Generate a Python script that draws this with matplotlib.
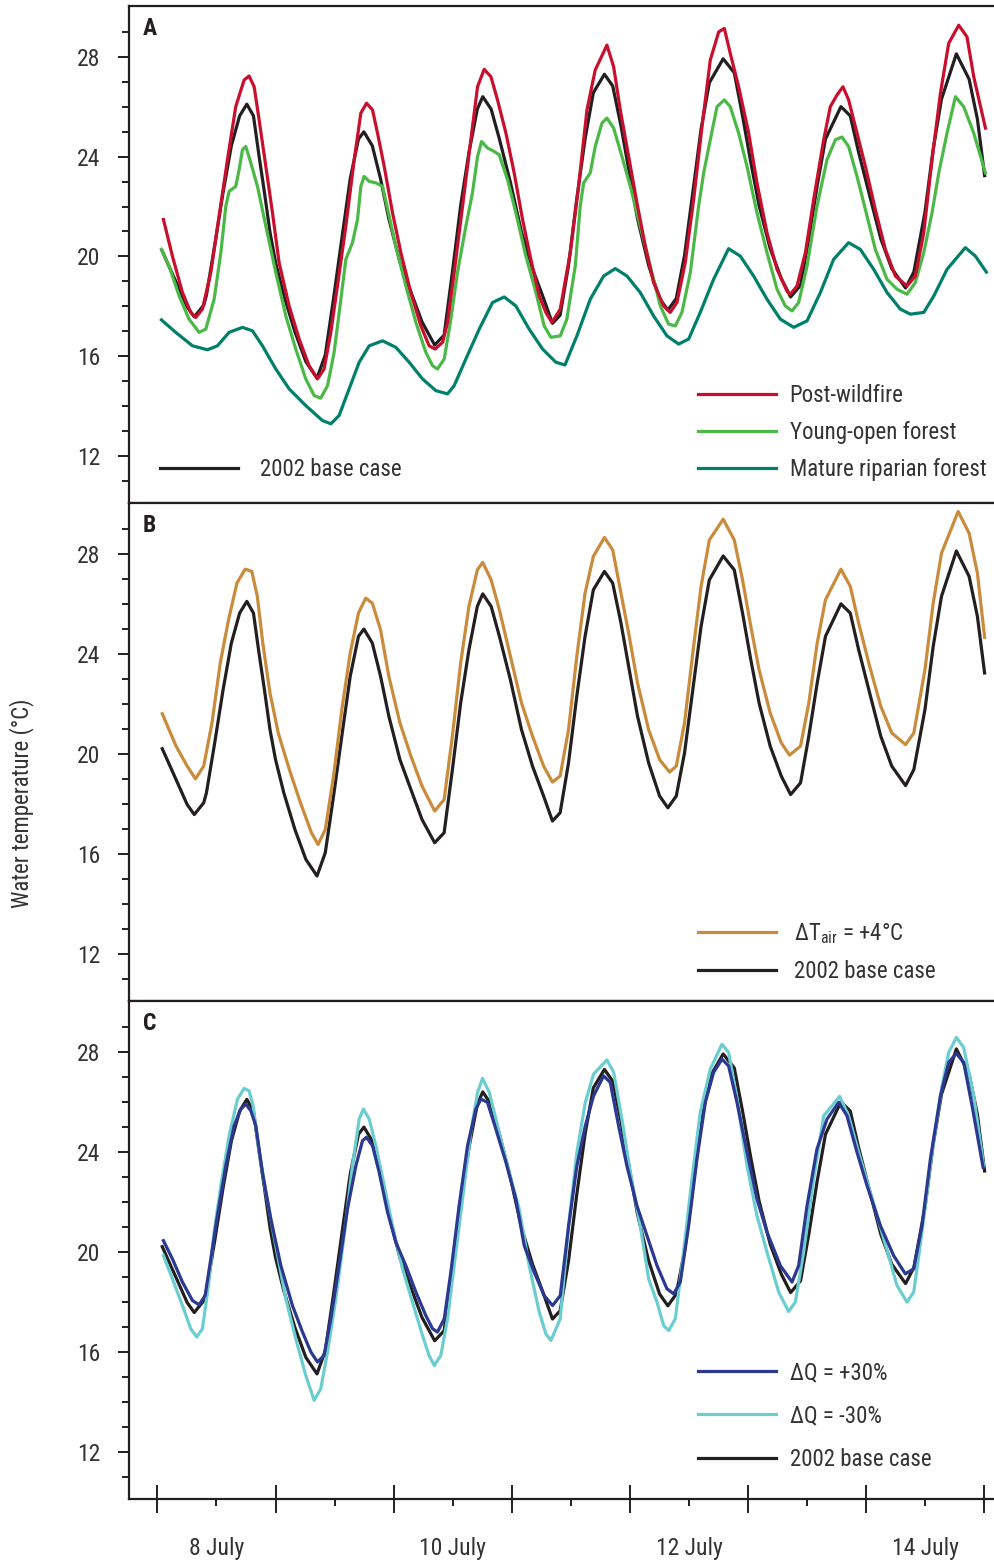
import matplotlib
matplotlib.use("Agg")
import matplotlib.pyplot as plt
from matplotlib import font_manager
from matplotlib.ticker import FixedLocator, FixedFormatter, NullFormatter

# a narrow face is closest to the original; fall back to Liberation Sans
installed = {f.name for f in font_manager.fontManager.ttflist}
narrow = [n for n in ['Liberation Sans Narrow', 'Roboto Condensed'] if n in installed]
if narrow:
    plt.rcParams['font.family'] = [narrow[0], 'DejaVu Sans']
    fs, fs_tick = 16.5, 17
else:
    plt.rcParams['font.family'] = ['Liberation Sans', 'DejaVu Sans']
    fs, fs_tick = 15.3, 16
plt.rcParams['text.color'] = '#333333'
plt.rcParams['xtick.color'] = '#231f20'
plt.rcParams['ytick.color'] = '#231f20'
plt.rcParams['xtick.labelcolor'] = '#333333'
plt.rcParams['ytick.labelcolor'] = '#333333'

# time in days since 8 July 00:00
# 2002 base case (same in all panels)
base_t = [0.041, 0.158, 0.252, 0.312, 0.392, 0.415, 0.485, 0.556, 0.626, 0.696, 0.757, 0.813, 0.860,
          0.906, 0.953, 1.000, 1.070, 1.164, 1.257, 1.351, 1.421, 1.491, 1.561, 1.632, 1.702, 1.748,
          1.819, 1.889, 1.959, 2.053, 2.146, 2.240, 2.347, 2.427, 2.497, 2.567, 2.637, 2.708, 2.754,
          2.825, 2.895, 2.988, 3.082, 3.175, 3.269, 3.344, 3.409, 3.480, 3.550, 3.620, 3.690, 3.784,
          3.854, 3.924, 3.994, 4.064, 4.158, 4.251, 4.321, 4.392, 4.462, 4.532, 4.602, 4.672, 4.789,
          4.883, 4.953, 5.023, 5.093, 5.187, 5.281, 5.360, 5.444, 5.514, 5.585, 5.655, 5.786, 5.865,
          5.936, 6.029, 6.123, 6.216, 6.333, 6.403, 6.497, 6.567, 6.637, 6.763, 6.871, 6.941, 7.002]
base_v = [20.21, 18.97, 17.97, 17.57, 18.04, 18.44, 20.44, 22.57, 24.44, 25.64, 26.11, 25.64, 24.04,
          22.57, 20.97, 19.77, 18.44, 16.97, 15.77, 15.11, 16.04, 18.31, 20.71, 23.11, 24.71, 25.00,
          24.44, 23.11, 21.51, 19.77, 18.57, 17.37, 16.44, 16.84, 19.37, 22.04, 24.17, 25.91, 26.41,
          25.91, 24.71, 22.97, 20.97, 19.51, 18.31, 17.31, 17.64, 19.64, 22.31, 24.71, 26.57, 27.31,
          26.84, 25.24, 23.37, 21.51, 19.64, 18.31, 17.84, 18.31, 20.04, 22.57, 25.11, 26.97, 27.93,
          27.37, 25.64, 23.77, 22.04, 20.31, 19.11, 18.37, 18.84, 20.71, 22.84, 24.71, 26.01, 25.64,
          24.17, 22.44, 20.71, 19.51, 18.73, 19.37, 21.77, 24.31, 26.31, 28.13, 27.11, 25.51, 23.24]

# panel A: riparian scenarios
fire_t = [0.051, 0.127, 0.212, 0.282, 0.325, 0.381, 0.452, 0.522, 0.593, 0.663, 0.734, 0.776, 0.819,
          0.861, 0.918, 0.974, 1.030, 1.115, 1.200, 1.284, 1.355, 1.411, 1.468, 1.524, 1.595, 1.666,
          1.722, 1.770, 1.821, 1.863, 1.920, 1.990, 2.061, 2.145, 2.230, 2.300, 2.351, 2.414, 2.456,
          2.512, 2.583, 2.653, 2.710, 2.766, 2.823, 2.879, 2.950, 3.020, 3.091, 3.161, 3.232, 3.288,
          3.339, 3.410, 3.495, 3.565, 3.636, 3.706, 3.805, 3.862, 3.918, 3.989, 4.059, 4.130, 4.200,
          4.285, 4.341, 4.398, 4.468, 4.539, 4.610, 4.680, 4.751, 4.799, 4.849, 4.920, 5.005, 5.075,
          5.160, 5.245, 5.329, 5.358, 5.414, 5.485, 5.555, 5.640, 5.696, 5.753, 5.803, 5.851, 5.922,
          5.993, 6.077, 6.162, 6.247, 6.345, 6.416, 6.487, 6.557, 6.628, 6.698, 6.783, 6.853, 6.910,
          7.009]
fire_v = [21.48, 20.01, 18.55, 17.75, 17.55, 17.88, 19.35, 21.61, 23.88, 26.01, 27.08, 27.24, 26.81,
          25.48, 23.61, 21.75, 19.75, 18.01, 16.68, 15.61, 15.08, 15.48, 16.95, 18.81, 21.21, 23.88,
          25.75, 26.15, 25.88, 24.95, 23.61, 21.75, 20.15, 18.55, 17.21, 16.41, 16.28, 16.55, 17.35,
          19.35, 22.01, 24.68, 26.81, 27.51, 27.21, 26.28, 24.95, 23.35, 21.48, 19.88, 18.41, 17.75,
          17.35, 17.88, 20.15, 22.81, 25.88, 27.48, 28.48, 27.61, 25.88, 24.01, 22.15, 20.41, 18.95,
          18.01, 17.75, 18.15, 19.75, 22.28, 25.21, 27.88, 29.01, 29.15, 28.15, 26.81, 24.95, 22.95,
          20.95, 19.48, 18.61, 18.48, 18.81, 20.15, 22.28, 24.68, 26.01, 26.48, 26.81, 26.28, 24.95,
          23.61, 21.88, 20.28, 19.21, 18.81, 19.21, 20.95, 23.88, 26.55, 28.55, 29.28, 28.81, 27.21,
          25.15]

young_t = [0.034, 0.099, 0.184, 0.268, 0.353, 0.410, 0.480, 0.537, 0.579, 0.607, 0.663, 0.692, 0.720,
           0.748, 0.791, 0.847, 0.918, 1.002, 1.087, 1.171, 1.256, 1.327, 1.383, 1.440, 1.496, 1.553,
           1.595, 1.651, 1.694, 1.722, 1.750, 1.793, 1.849, 1.906, 1.962, 2.018, 2.103, 2.188, 2.272,
           2.329, 2.371, 2.428, 2.484, 2.540, 2.611, 2.667, 2.710, 2.744, 2.794, 2.851, 2.893, 2.964,
           3.034, 3.119, 3.204, 3.274, 3.331, 3.410, 3.466, 3.537, 3.579, 3.608, 3.664, 3.706, 3.763,
           3.805, 3.862, 3.932, 4.003, 4.087, 4.172, 4.257, 4.327, 4.384, 4.440, 4.511, 4.581, 4.624,
           4.680, 4.737, 4.799, 4.849, 4.920, 4.991, 5.075, 5.160, 5.245, 5.315, 5.372, 5.428, 5.499,
           5.583, 5.668, 5.739, 5.795, 5.851, 5.922, 5.993, 6.077, 6.176, 6.261, 6.345, 6.416, 6.487,
           6.557, 6.614, 6.684, 6.755, 6.825, 6.910, 7.009]
young_v = [20.28, 19.61, 18.41, 17.48, 16.95, 17.08, 18.28, 20.15, 22.01, 22.61, 22.81, 23.48, 24.28,
           24.41, 23.75, 22.81, 21.21, 19.35, 17.61, 16.28, 15.08, 14.41, 14.31, 14.81, 16.15, 18.28,
           19.88, 20.55, 21.48, 22.81, 23.21, 23.01, 22.95, 22.81, 21.61, 20.41, 18.81, 17.35, 16.15,
           15.61, 15.48, 15.88, 17.48, 19.35, 21.21, 22.55, 24.01, 24.61, 24.35, 24.21, 24.08, 23.08,
           21.75, 20.01, 18.55, 17.21, 16.75, 16.81, 17.48, 19.61, 22.01, 22.95, 23.35, 24.41, 25.35,
           25.55, 25.15, 24.01, 22.81, 21.21, 19.61, 18.01, 17.28, 17.21, 17.75, 19.35, 22.01, 23.35,
           24.68, 26.01, 26.28, 26.01, 24.95, 23.61, 21.75, 20.15, 18.68, 18.01, 17.81, 18.15, 19.61,
           22.01, 23.88, 24.68, 24.79, 24.41, 23.21, 21.88, 20.28, 19.08, 18.68, 18.48, 18.95, 20.15,
           21.75, 23.35, 24.95, 26.41, 26.01, 24.95, 23.35]

mature_t = [0.034, 0.155, 0.297, 0.424, 0.508, 0.607, 0.720, 0.805, 0.889, 1.002, 1.115, 1.256, 1.397,
            1.468, 1.538, 1.623, 1.708, 1.793, 1.906, 2.018, 2.131, 2.244, 2.357, 2.456, 2.512, 2.611,
            2.724, 2.837, 2.936, 3.034, 3.147, 3.260, 3.373, 3.450, 3.551, 3.664, 3.777, 3.876, 3.975,
            4.087, 4.200, 4.313, 4.412, 4.497, 4.595, 4.708, 4.835, 4.934, 5.047, 5.160, 5.273, 5.386,
            5.499, 5.612, 5.724, 5.851, 5.950, 6.063, 6.176, 6.289, 6.374, 6.487, 6.572, 6.684, 6.839,
            6.924, 7.017]
mature_v = [17.45, 16.95, 16.41, 16.25, 16.41, 16.95, 17.15, 17.01, 16.41, 15.48, 14.68, 14.01, 13.41,
            13.28, 13.61, 14.68, 15.75, 16.41, 16.61, 16.35, 15.75, 15.08, 14.61, 14.48, 14.81, 15.88,
            17.08, 18.15, 18.37, 18.01, 17.08, 16.28, 15.75, 15.64, 16.81, 18.28, 19.21, 19.51, 19.21,
            18.55, 17.61, 16.81, 16.48, 16.68, 17.75, 19.08, 20.31, 20.01, 19.21, 18.28, 17.48, 17.15,
            17.41, 18.55, 19.88, 20.55, 20.28, 19.48, 18.55, 17.88, 17.68, 17.75, 18.41, 19.48, 20.35,
            20.01, 19.37]

# panel B: air temperature +4 C
air_t = [0.041, 0.158, 0.252, 0.322, 0.392, 0.462, 0.532, 0.602, 0.673, 0.743, 0.799, 0.846, 0.892,
         0.953, 1.023, 1.117, 1.211, 1.304, 1.360, 1.421, 1.491, 1.561, 1.632, 1.702, 1.763, 1.819,
         1.889, 1.959, 2.053, 2.146, 2.240, 2.347, 2.427, 2.497, 2.567, 2.637, 2.708, 2.754, 2.825,
         2.895, 2.988, 3.082, 3.175, 3.269, 3.344, 3.409, 3.480, 3.550, 3.620, 3.690, 3.784, 3.854,
         3.924, 3.994, 4.064, 4.158, 4.251, 4.336, 4.392, 4.462, 4.532, 4.602, 4.672, 4.789, 4.883,
         4.953, 5.023, 5.093, 5.187, 5.281, 5.351, 5.444, 5.514, 5.585, 5.655, 5.786, 5.865, 5.936,
         6.029, 6.123, 6.216, 6.333, 6.403, 6.497, 6.567, 6.637, 6.778, 6.871, 6.941, 7.002]
air_v = [21.61, 20.31, 19.51, 19.00, 19.51, 21.24, 23.64, 25.37, 26.84, 27.40, 27.31, 26.31, 24.44,
         22.44, 20.84, 19.37, 18.04, 16.84, 16.37, 16.97, 19.11, 21.77, 24.04, 25.64, 26.24, 26.04,
         24.97, 23.11, 21.24, 19.91, 18.71, 17.71, 18.17, 20.71, 23.64, 25.91, 27.37, 27.67, 26.97,
         25.77, 23.91, 22.04, 20.71, 19.51, 18.87, 19.11, 20.97, 23.91, 26.44, 27.91, 28.67, 28.17,
         26.44, 24.71, 22.84, 20.97, 19.77, 19.27, 19.51, 21.24, 24.04, 26.71, 28.57, 29.40, 28.57,
         26.97, 25.11, 23.37, 21.64, 20.44, 19.95, 20.31, 22.04, 24.44, 26.17, 27.40, 26.71, 25.24,
         23.51, 21.91, 20.84, 20.37, 20.84, 23.37, 26.04, 28.04, 29.71, 28.84, 27.24, 24.67]

# panel C: discharge +/- 30 %
qplus_t = [0.051, 0.127, 0.212, 0.297, 0.353, 0.404, 0.452, 0.508, 0.579, 0.649, 0.706, 0.748, 0.791,
           0.833, 0.889, 0.960, 1.045, 1.143, 1.228, 1.299, 1.355, 1.411, 1.468, 1.538, 1.609, 1.680,
           1.736, 1.770, 1.821, 1.877, 1.948, 2.018, 2.103, 2.188, 2.272, 2.329, 2.371, 2.428, 2.484,
           2.554, 2.625, 2.696, 2.738, 2.794, 2.865, 2.950, 3.034, 3.105, 3.189, 3.274, 3.345, 3.410,
           3.481, 3.551, 3.622, 3.692, 3.777, 3.833, 3.904, 3.974, 4.059, 4.144, 4.229, 4.313, 4.370,
           4.426, 4.497, 4.567, 4.638, 4.708, 4.779, 4.835, 4.906, 4.991, 5.075, 5.160, 5.273, 5.372,
           5.428, 5.499, 5.583, 5.668, 5.767, 5.837, 5.922, 6.007, 6.120, 6.232, 6.331, 6.402, 6.472,
           6.543, 6.628, 6.698, 6.763, 6.825, 6.896, 6.989]
qplus_v = [20.45, 19.72, 18.79, 18.05, 17.88, 18.25, 19.72, 21.45, 23.45, 25.05, 25.72, 25.92, 25.65,
           25.05, 23.19, 21.32, 19.45, 17.85, 16.79, 15.99, 15.59, 15.85, 17.32, 19.45, 21.72, 23.45,
           24.45, 24.59, 24.25, 23.19, 21.59, 20.39, 19.45, 18.39, 17.45, 16.92, 16.79, 17.32, 19.19,
           21.85, 24.25, 25.72, 26.12, 25.99, 24.92, 23.59, 22.12, 20.25, 19.19, 18.25, 17.85, 18.25,
           21.05, 23.45, 25.05, 26.25, 27.05, 26.79, 25.05, 23.45, 21.85, 20.65, 19.45, 18.52, 18.32,
           18.79, 21.05, 23.72, 25.99, 27.19, 27.72, 27.45, 25.99, 23.99, 22.12, 20.79, 19.45, 18.79,
           19.45, 21.85, 24.12, 25.32, 25.99, 25.45, 23.99, 22.65, 21.05, 19.85, 19.12, 19.32, 21.05,
           23.72, 26.25, 27.59, 27.95, 27.59, 25.85, 23.39]

qminus_t = [0.051, 0.127, 0.212, 0.282, 0.333, 0.381, 0.432, 0.480, 0.537, 0.607, 0.678, 0.734, 0.776,
            0.810, 0.861, 0.918, 1.002, 1.087, 1.171, 1.256, 1.327, 1.383, 1.440, 1.510, 1.581, 1.651,
            1.708, 1.744, 1.793, 1.849, 1.920, 1.990, 2.075, 2.159, 2.244, 2.300, 2.343, 2.399, 2.456,
            2.512, 2.583, 2.653, 2.710, 2.752, 2.809, 2.893, 2.978, 3.062, 3.147, 3.232, 3.288, 3.331,
            3.410, 3.481, 3.551, 3.622, 3.692, 3.805, 3.862, 3.932, 4.003, 4.087, 4.158, 4.229, 4.285,
            4.328, 4.384, 4.454, 4.525, 4.595, 4.680, 4.779, 4.835, 4.906, 4.991, 5.075, 5.160, 5.259,
            5.343, 5.400, 5.470, 5.555, 5.640, 5.775, 5.851, 5.936, 6.035, 6.148, 6.261, 6.345, 6.402,
            6.472, 6.557, 6.642, 6.698, 6.763, 6.825, 6.910, 6.994]
qminus_v = [19.85, 18.92, 17.85, 16.92, 16.59, 16.92, 18.65, 20.79, 22.65, 24.65, 26.12, 26.55, 26.45,
            25.85, 23.99, 22.39, 20.25, 18.12, 16.52, 15.05, 14.05, 14.52, 15.99, 18.12, 20.65, 23.45,
            25.32, 25.72, 25.32, 24.25, 22.65, 21.05, 19.32, 17.99, 16.65, 15.85, 15.45, 15.85, 17.32,
            19.45, 22.12, 24.79, 26.39, 26.95, 26.39, 24.79, 23.19, 21.72, 19.45, 17.59, 16.72, 16.45,
            17.32, 21.05, 23.99, 25.99, 27.12, 27.69, 27.19, 25.32, 23.19, 21.05, 18.92, 17.99, 17.05,
            16.85, 17.32, 19.99, 22.92, 25.59, 27.32, 28.32, 27.99, 26.12, 23.45, 21.45, 19.99, 18.39,
            17.61, 17.99, 19.99, 22.92, 25.45, 26.23, 25.45, 23.99, 22.39, 20.52, 18.65, 17.99, 18.39,
            20.79, 23.99, 26.65, 27.99, 28.59, 28.19, 26.25, 23.45]

day_ticks = [0, 1, 2, 3, 4, 5, 6, 7]
noon_ticks = [0.5, 1.5, 2.5, 3.5, 4.5, 5.5, 6.5]
noon_labels = ['8 July', '', '10 July', '', '12 July', '', '14 July']

# colours
c_base = '#231f20'
c_fire = '#c8102e'
c_young = '#4cb848'
c_mature = '#00806a'
c_air = '#c98b3c'
c_qplus = '#2b3990'
c_qminus = '#6ccdd0'

lw = 2.3

fig = plt.figure(figsize=(9.95, 15.62), dpi=100)
ax_a = fig.add_axes([0.1297, 0.67798, 0.8703, 0.31818])
ax_b = fig.add_axes([0.1297, 0.35915, 0.8703, 0.31882])
ax_c = fig.add_axes([0.1297, 0.04033, 0.8703, 0.31882])

for ax, letter in zip([ax_a, ax_b, ax_c], ['A', 'B', 'C']):
    ax.set_xlim(-0.24, 7.09)
    ax.set_ylim(10.1, 30.05)
    for side in ['left', 'top', 'bottom']:
        ax.spines[side].set_linewidth(1.6)
        ax.spines[side].set_color('#231f20')
    ax.spines['right'].set_visible(False)
    ax.yaxis.set_major_locator(FixedLocator([12, 16, 20, 24, 28]))
    ax.yaxis.set_minor_locator(FixedLocator([11, 13, 14, 15, 17, 18, 19, 21, 22, 23, 25, 26, 27, 29]))
    ax.tick_params(axis='y', which='major', direction='out', length=8, width=1.4, labelsize=fs_tick, pad=13)
    ax.tick_params(axis='y', which='minor', direction='out', length=5, width=1.4)
    ax.text(0.016, 0.955, letter, transform=ax.transAxes, fontsize=17, fontweight='bold',
            ha='left', va='center', color='#231f20')
    if ax is not ax_c:
        ax.set_xticks([])

# x axis of bottom panel
ax_c.xaxis.set_major_locator(FixedLocator(day_ticks))
ax_c.xaxis.set_major_formatter(NullFormatter())
ax_c.xaxis.set_minor_locator(FixedLocator(noon_ticks))
ax_c.xaxis.set_minor_formatter(FixedFormatter(noon_labels))
ax_c.tick_params(axis='x', which='major', direction='inout', length=19.5, width=1.4)
ax_c.tick_params(axis='x', which='minor', direction='out', length=5, width=1.4, labelsize=fs_tick, pad=22)

leg_kw = dict(frameon=False, fontsize=fs, handlelength=3.4, borderpad=0, borderaxespad=0,
              labelcolor='#333333')

# panel A
base_a, = ax_a.plot(base_t, base_v, color=c_base, lw=lw, label='2002 base case')
l_mat, = ax_a.plot(mature_t, mature_v, color=c_mature, lw=lw, label='Mature riparian forest')
l_yng, = ax_a.plot(young_t, young_v, color=c_young, lw=lw, label='Young-open forest')
l_fire, = ax_a.plot(fire_t, fire_v, color=c_fire, lw=lw, label='Post-wildfire')
leg_a1 = ax_a.legend(handles=[l_fire, l_yng, l_mat], loc='lower left', bbox_to_anchor=(0.657, 0.045),
                     handletextpad=0.6, labelspacing=0.61, **leg_kw)
ax_a.add_artist(leg_a1)
ax_a.legend(handles=[base_a], loc='lower left', bbox_to_anchor=(0.036, 0.045),
            handletextpad=0.95, **leg_kw)

# panel B
l_base_b, = ax_b.plot(base_t, base_v, color=c_base, lw=lw, label='2002 base case')
l_air, = ax_b.plot(air_t, air_v, color=c_air, lw=lw, label='ΔT$_{\\mathregular{air}}$ = +4°C')
ax_b.legend(handles=[l_air, l_base_b], loc='lower left', bbox_to_anchor=(0.657, 0.036),
            handletextpad=0.8, labelspacing=0.62, **leg_kw)

# panel C
l_base_c, = ax_c.plot(base_t, base_v, color=c_base, lw=lw, label='2002 base case')
l_qm, = ax_c.plot(qminus_t, qminus_v, color=c_qminus, lw=lw, label='ΔQ = -30%')
l_qp, = ax_c.plot(qplus_t, qplus_v, color=c_qplus, lw=lw, label='ΔQ = +30%')
ax_c.legend(handles=[l_qp, l_qm, l_base_c], loc='lower left', bbox_to_anchor=(0.657, 0.056),
            handletextpad=0.6, labelspacing=0.9, **leg_kw)

fig.text(0.022, 0.486, 'Water temperature (°C)', rotation=90, ha='center', va='center', fontsize=fs_tick - 0.5)

fig.savefig('out.png', dpi=100)
